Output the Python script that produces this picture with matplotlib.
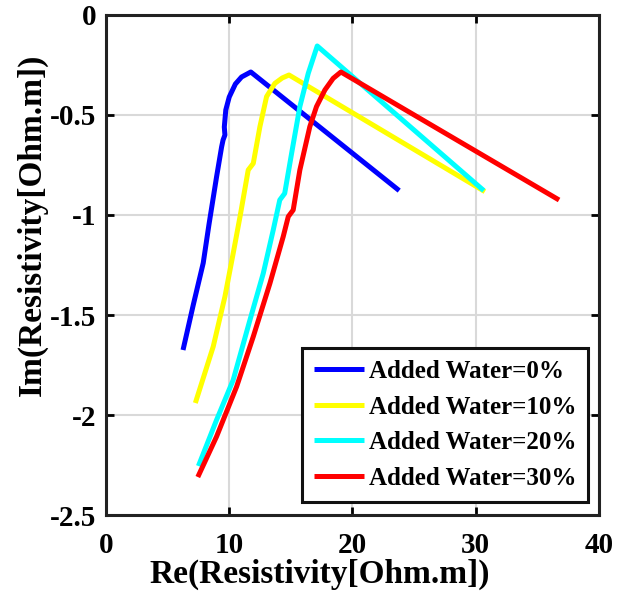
import matplotlib
matplotlib.use("Agg")
import matplotlib.pyplot as plt

labels = ["Added Water=0%", "Added Water=10%", "Added Water=20%", "Added Water=30%"]
colors = ["#0000ff", "#ffff00", "#00ffff", "#ff0000"]

re0 = [6.25, 7.08, 7.89, 8.35, 8.97, 9.38, 9.5, 9.65, 9.6, 9.72, 10.0, 10.5, 11.0, 11.75, 23.79]
im0 = [-1.675, -1.45, -1.24, -1.05, -0.81, -0.66, -0.625, -0.60, -0.56, -0.475, -0.41, -0.345, -0.31, -0.285, -0.878]

re10 = [7.25, 8.7, 9.65, 10.32, 10.9, 11.54, 11.95, 12.49, 13.03, 13.7, 14.3, 14.85, 30.74]
im10 = [-1.94, -1.658, -1.408, -1.192, -1.0, -0.775, -0.742, -0.558, -0.408, -0.342, -0.315, -0.30, -0.883]

re20 = [7.5, 8.97, 10.32, 11.68, 12.76, 13.57, 14.1, 14.5, 15.06, 15.73, 16.41, 16.9, 17.14, 30.65]
im20 = [-2.255, -2.025, -1.825, -1.525, -1.292, -1.075, -0.925, -0.892, -0.692, -0.458, -0.292, -0.2, -0.155, -0.878]

re30 = [7.45, 8.97, 10.6, 11.95, 13.3, 14.38, 14.79, 15.19, 15.73, 16.54, 17.08, 17.76, 18.43, 19.06, 36.76]
im30 = [-2.31, -2.108, -1.858, -1.608, -1.342, -1.108, -1.008, -0.975, -0.775, -0.558, -0.458, -0.375, -0.317, -0.285, -0.925]

xticks = [0, 10, 20, 30, 40]
yticks = [0, -0.5, -1, -1.5, -2, -2.5]
ytick_labels = ["0", "-0.5", "-1", "-1.5", "-2", "-2.5"]

plt.rcParams['font.family'] = ['Liberation Serif', 'DejaVu Serif']
plt.rcParams['font.weight'] = 'bold'

fig = plt.figure(figsize=(6.35, 6.14), dpi=100)
ax = fig.add_axes([0.1669, 0.1612, 0.7764, 0.8144])

series = [(re0, im0), (re10, im10), (re20, im20), (re30, im30)]
for (x, y), c, lab in zip(series, colors, labels):
    ax.plot(x, y, color=c, lw=3.6, label=lab, solid_capstyle='butt', solid_joinstyle='round')

ax.set_xlim(0, 40)
ax.set_ylim(-2.5, 0)
ax.set_xticks(xticks)
ax.set_yticks(yticks)
ax.set_yticklabels(ytick_labels)
ax.grid(True, color='#d9d9d9', lw=1.5)
ax.set_axisbelow(True)
for s in ax.spines.values():
    s.set_linewidth(2.2)
    s.set_color('#222222')
ax.tick_params(direction='in', length=6, width=2, top=True, right=True, labelsize=21)
ax.tick_params(axis='x', pad=12)
ax.tick_params(axis='y', pad=7)
for t in ax.get_xticklabels() + ax.get_yticklabels():
    t.set_fontweight('bold')

ax.set_xlabel("Re(Resistivity[Ohm.m])", fontsize=24, fontweight='bold')
ax.set_ylabel("Im(Resistivity[Ohm.m])", fontsize=24, fontweight='bold')
ax.xaxis.set_label_coords(0.434, -0.118)
ax.xaxis.label.set_va('center')
ax.yaxis.set_label_coords(-0.15, 0.58)
ax.yaxis.label.set_va('center')

leg = ax.legend(loc='lower right', bbox_to_anchor=(0.978, 0.027),
                frameon=True, fancybox=False, edgecolor='#111111', framealpha=1,
                handlelength=2.0, handletextpad=0.2, labelspacing=0.5,
                borderpad=0.48, borderaxespad=0.0, prop={'weight': 'bold', 'size': 18})
leg.get_frame().set_linewidth(2.2)

fig.savefig("out.png", dpi=100)
